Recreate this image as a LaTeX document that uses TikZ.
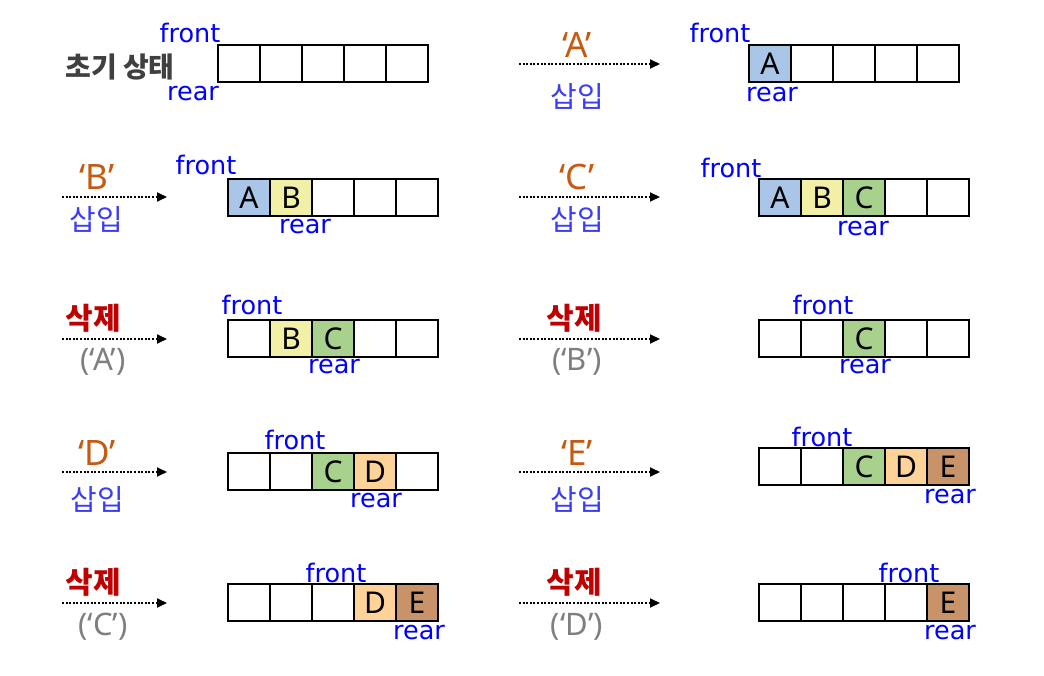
\documentclass[tikz,border=0pt]{standalone}
\usepackage{fontspec}
\setmainfont{Noto Sans CJK KR}
\newfontfamily\latf{Noto Sans}
\newfontfamily\ptrf{DejaVu Sans}
\usetikzlibrary{arrows.meta}
\definecolor{ptrblue}{RGB}{0,0,255}
\definecolor{insblue}{RGB}{60,60,245}
\definecolor{quoteor}{RGB}{197,90,17}
\definecolor{delred}{RGB}{192,0,0}
\definecolor{grayt}{RGB}{127,127,127}
\definecolor{initgray}{RGB}{64,64,64}
\definecolor{cellN}{RGB}{255,255,255}
\definecolor{cellA}{RGB}{169,197,232}
\definecolor{cellB}{RGB}{242,240,166}
\definecolor{cellC}{RGB}{169,209,142}
\definecolor{cellD}{RGB}{253,211,154}
\definecolor{cellE}{RGB}{201,147,106}
\tikzset{
  cell/.style={draw=black, line width=2.2pt, minimum width=42pt, minimum height=37pt,
    inner sep=0pt, font=\latf\fontsize{30}{30}\selectfont},
  ptrlbl/.style={text=ptrblue, inner sep=0pt, font=\ptrf\fontsize{25.5}{25.5}\selectfont},
  inslbl/.style={text=insblue, inner sep=0pt, font=\fontsize{29}{29}\selectfont},
  dellbl/.style={text=delred, inner sep=0pt, font=\bfseries\fontsize{30}{30}\selectfont},
  quotelbl/.style={text=quoteor, inner sep=0pt, font=\latf\fontsize{35}{35}\selectfont},
  graylbl/.style={text=grayt, inner sep=0pt, font=\latf\fontsize{31}{31}\selectfont},
  initlbl/.style={text=initgray, inner sep=0pt, font=\bfseries\fontsize{28}{28}\selectfont},
  oparrow/.style={line width=2pt, dash pattern=on 2pt off 1.6pt,
    -{Triangle[length=10pt,width=9pt]}}
}
\newcommand\qrow[4]{%
  \foreach \f/\t [count=\i from 0] in {#4} {
    \node[cell, fill=cell\f] (#1-\i) at ({#2+21+42*\i},{#3+18.5}) {\t};
  }%
}
\begin{document}
\begin{tikzpicture}[x=1pt,y=-1pt]
\useasboundingbox[fill=white] (0,0) rectangle (1044,676);

% Row 1 left: initial state
\node[initlbl] (init) at (120,67) {초기 상태};
\qrow{q0}{218}{45}{N/{},N/{},N/{},N/{},N/{}}
\node[ptrlbl] (f0) at (190,33) {front};
\node[ptrlbl] (r0) at (193,94) {rear};

% Row 1 right: insert A
\coordinate (a1s) at (519,64); \coordinate (a1e) at (660,64);
\draw[oparrow] (a1s) -- (a1e);
\node[quotelbl] (o1) at (577,45) {‘A’};
\node[inslbl] (i1) at (577,96) {삽입};
\qrow{q1}{749}{45}{A/A,N/{},N/{},N/{},N/{}}
\node[ptrlbl] (f1) at (720,33) {front};
\node[ptrlbl] (r1) at (772,95) {rear};

% Row 2 left: insert B
\coordinate (a2s) at (62,197); \coordinate (a2e) at (167,197);
\draw[oparrow] (a2s) -- (a2e);
\node[quotelbl] (o2) at (97,177) {‘B’};
\node[inslbl] (i2) at (96,219) {삽입};
\qrow{q2}{228}{179}{A/A,B/B,N/{},N/{},N/{}}
\node[ptrlbl] (f2) at (206,165) {front};
\node[ptrlbl] (r2) at (305,227) {rear};

% Row 2 right: insert C
\coordinate (a3s) at (519,197); \coordinate (a3e) at (660,197);
\draw[oparrow] (a3s) -- (a3e);
\node[quotelbl] (o3) at (577,177) {‘C’};
\node[inslbl] (i3) at (577,219) {삽입};
\qrow{q3}{759}{179}{A/A,B/B,C/C,N/{},N/{}}
\node[ptrlbl] (f3) at (731,168) {front};
\node[ptrlbl] (r3) at (863,229) {rear};

% Row 3 left: delete A
\coordinate (a4s) at (62,339); \coordinate (a4e) at (167,339);
\draw[oparrow] (a4s) -- (a4e);
\node[dellbl] (d4) at (93,318) {삭제};
\node[graylbl] (g4) at (103,362) {(‘A’)};
\qrow{q4}{228}{320}{N/{},B/B,C/C,N/{},N/{}}
\node[ptrlbl] (f4) at (252,305) {front};
\node[ptrlbl] (r4) at (334,367) {rear};

% Row 3 right: delete B
\coordinate (a5s) at (519,339); \coordinate (a5e) at (660,339);
\draw[oparrow] (a5s) -- (a5e);
\node[dellbl] (d5) at (574,318) {삭제};
\node[graylbl] (g5) at (577,362) {(‘B’)};
\qrow{q5}{759}{320}{N/{},N/{},C/C,N/{},N/{}}
\node[ptrlbl] (f5) at (823,305) {front};
\node[ptrlbl] (r5) at (865,367) {rear};

% Row 4 left: insert D
\coordinate (a6s) at (62,472); \coordinate (a6e) at (167,472);
\draw[oparrow] (a6s) -- (a6e);
\node[quotelbl] (o6) at (97,453) {‘D’};
\node[inslbl] (i6) at (97,499) {삽입};
\qrow{q6}{228}{453}{N/{},N/{},C/C,D/D,N/{}}
\node[ptrlbl] (f6) at (295,440) {front};
\node[ptrlbl] (r6) at (376,501) {rear};

% Row 4 right: insert E
\coordinate (a7s) at (519,472); \coordinate (a7e) at (660,472);
\draw[oparrow] (a7s) -- (a7e);
\node[quotelbl] (o7) at (577,453) {‘E’};
\node[inslbl] (i7) at (577,499) {삽입};
\qrow{q7}{759}{448}{N/{},N/{},C/C,D/D,E/E}
\node[ptrlbl] (f7) at (822,437) {front};
\node[ptrlbl] (r7) at (950,497) {rear};

% Row 5 left: delete C
\coordinate (a8s) at (62,603); \coordinate (a8e) at (167,603);
\draw[oparrow] (a8s) -- (a8e);
\node[dellbl] (d8) at (93,582) {삭제};
\node[graylbl] (g8) at (103,627) {(‘C’)};
\qrow{q8}{228}{584}{N/{},N/{},N/{},D/D,E/E}
\node[ptrlbl] (f8) at (336,573) {front};
\node[ptrlbl] (r8) at (419,633) {rear};

% Row 5 right: delete D
\coordinate (a9s) at (519,603); \coordinate (a9e) at (660,603);
\draw[oparrow] (a9s) -- (a9e);
\node[dellbl] (d9) at (574,582) {삭제};
\node[graylbl] (g9) at (577,627) {(‘D’)};
\qrow{q9}{759}{584}{N/{},N/{},N/{},N/{},E/E}
\node[ptrlbl] (f9) at (909,573) {front};
\node[ptrlbl] (r9) at (950,633) {rear};
\end{tikzpicture}
\end{document}
